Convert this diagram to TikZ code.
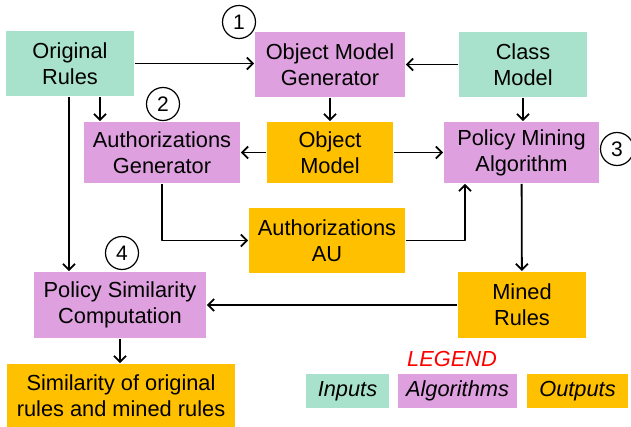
\documentclass[tikz,border=0pt]{standalone}
\usepackage{fontspec}
\setmainfont{Liberation Sans}
\usetikzlibrary{positioning,arrows.meta}

\definecolor{inputgreen}{RGB}{169,226,204}
\definecolor{algoplum}{RGB}{222,160,222}
\definecolor{outorange}{RGB}{255,192,0}

\tikzset{
  boxtext/.style={align=center,inner sep=0pt,draw=none,font=\fontsize{21.8bp}{26bp}\selectfont},
  inputbox/.style={boxtext,fill=inputgreen},
  algobox/.style={boxtext,fill=algoplum},
  outbox/.style={boxtext,fill=outorange},
  stepno/.style={circle,draw,line width=1.2bp,minimum size=33bp,inner sep=0pt,font=\fontsize{21bp}{24bp}\selectfont},
}

\begin{document}
\begin{tikzpicture}[>={Straight Barb[length=6bp,width=12bp]},line width=1.8bp,line join=bevel,]
\useasboundingbox (0bp,0bp) rectangle (631bp,427bp);
%%
\node (origrules) at (70bp,363.5bp) [inputbox,minimum width=128bp,minimum height=65bp] {Original\\Rules};
  \node (objgen) at (330bp,362.5bp) [algobox,minimum width=150bp,minimum height=65bp] {Object Model\\Generator};
  \node (classmodel) at (523bp,362.5bp) [inputbox,minimum width=128bp,minimum height=65bp] {Class\\Model};
  \node (authgen) at (162bp,274.5bp) [algobox,minimum width=156bp,minimum height=61bp] {Authorizations\\Generator};
  \node (objmodel) at (330bp,274.5bp) [outbox,minimum width=126bp,minimum height=61bp] {Object\\Model};
  \node (mining) at (521.5bp,274.5bp) [algobox,minimum width=155bp,minimum height=61bp] {Policy Mining\\Algorithm};
  \node (authau) at (327bp,186.5bp) [outbox,minimum width=156bp,minimum height=65bp] {Authorizations\\AU};
  \node (simcomp) at (120bp,122bp) [algobox,minimum width=172bp,minimum height=66bp] {Policy Similarity\\Computation};
  \node (minedrules) at (522bp,122bp) [outbox,minimum width=128bp,minimum height=66bp] {Mined\\Rules};
  \node (simresult) at (121bp,31.5bp) [outbox,minimum width=228bp,minimum height=63bp] {Similarity of original\\rules and mined rules};
%
  \node (step1) at (239bp,405bp) [stepno] {1};
  \node (step2) at (163bp,323bp) [stepno] {2};
  \node (step3) at (617bp,278bp) [stepno] {3};
  \node (step4) at (122bp,174bp) [stepno] {4};
%
  \node (legend) at (452bp,68bp) [boxtext,text=red,font=\fontsize{21.8bp}{26bp}\selectfont\itshape] {LEGEND};
  \node (leginputs) at (347.5bp,36bp) [inputbox,minimum width=83bp,minimum height=34bp,font=\fontsize{21.8bp}{26bp}\selectfont\itshape] {Inputs};
  \node (legalgos) at (457.5bp,36bp) [algobox,minimum width=119bp,minimum height=34bp,font=\fontsize{21.8bp}{26bp}\selectfont\itshape] {Algorithms};
  \node (legoutputs) at (577.5bp,36bp) [outbox,minimum width=101bp,minimum height=34bp,font=\fontsize{21.8bp}{26bp}\selectfont\itshape] {Outputs};
%
  \draw [black,->] (origrules.east) -- (origrules.east -| objgen.west);
  \draw [black,->] (classmodel) -- (objgen);
  \draw [black,->] (objgen) -- (objmodel);
  \draw [black,->] ([xshift=30bp]origrules.south) -- ([xshift=30bp]origrules.south |- authgen.north);
  \draw [black,->] (objmodel) -- (authgen);
  \draw [black,->] (objmodel) -- (mining);
  \draw [black,->] (classmodel) -- (classmodel |- mining.north);
  \draw [black,->] (authgen.south) |- (authau.west);
  \draw [black,->] (authau.east) -| ([xshift=-56.5bp]mining.south);
  \draw [black,->] (mining) -- (minedrules);
  \draw [black,->] (minedrules) -- (simcomp);
  \draw [black,->] ([xshift=-1bp]origrules.south) -- ([xshift=-1bp]origrules.south |- simcomp.north);
  \draw [black,->] (simcomp.south) -- (simcomp.south |- simresult.north);
%
\end{tikzpicture}
\end{document}
